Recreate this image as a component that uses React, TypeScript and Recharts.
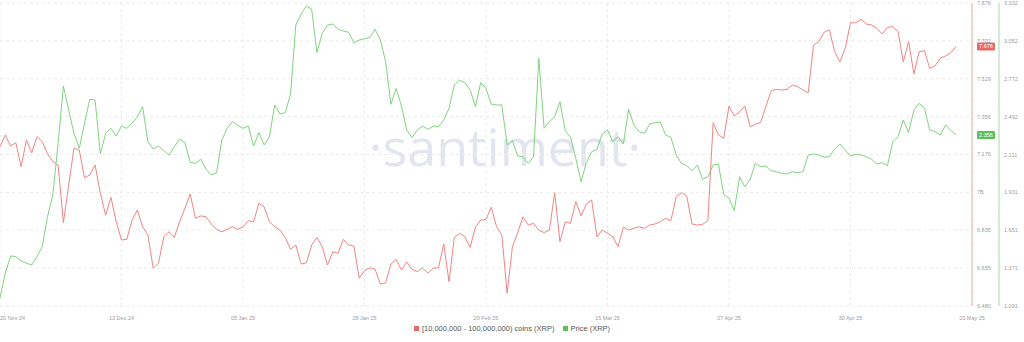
import React from "react";
import { LineChart, Line, XAxis, YAxis, CartesianGrid, Legend, ReferenceLine } from "recharts";

// Daily values from 20 Nov 2024 (day 0) to 20 May 2025 (day 181)
const holdersSupply: number[] = [
  7.214, 7.268, 7.217, 7.232, 7.122, 7.245, 7.186, 7.26, 7.237, 7.18,
  7.145, 7.13, 6.864, 7.037, 7.207, 7.199, 7.071, 7.084, 7.13, 6.999,
  6.899, 6.981, 6.868, 6.784, 6.787, 6.876, 6.922, 6.845, 6.807, 6.654,
  6.677, 6.799, 6.822, 6.796, 6.868, 6.93, 6.996, 6.884, 6.895, 6.891,
  6.858, 6.833, 6.822, 6.833, 6.845, 6.833, 6.845, 6.873, 6.868, 6.953,
  6.937, 6.868, 6.845, 6.83, 6.796, 6.741, 6.761, 6.673, 6.679, 6.761,
  6.796, 6.753, 6.669, 6.73, 6.723, 6.787, 6.761, 6.756, 6.608, 6.643,
  6.656, 6.649, 6.581, 6.587, 6.673, 6.695, 6.646, 6.683, 6.649, 6.638,
  6.656, 6.631, 6.654, 6.656, 6.766, 6.592, 6.796, 6.815, 6.799, 6.75,
  6.843, 6.876, 6.879, 6.935, 6.845, 6.807, 6.539, 6.753, 6.818, 6.891,
  6.853, 6.861, 6.83, 6.818, 6.83, 7.002, 6.776, 6.868, 6.861, 6.961,
  6.895, 6.95, 6.968, 6.799, 6.83, 6.815, 6.799, 6.753, 6.843, 6.83,
  6.838, 6.845, 6.838, 6.853, 6.858, 6.868, 6.884, 6.873, 6.984, 7.002,
  6.987, 6.858, 6.853, 6.856, 6.873, 7.324, 7.268, 7.253, 7.401, 7.355,
  7.375, 7.401, 7.306, 7.317, 7.326, 7.401, 7.472, 7.478, 7.475, 7.478,
  7.498, 7.49, 7.475, 7.463, 7.682, 7.698, 7.741, 7.752, 7.652, 7.605,
  7.667, 7.785, 7.785, 7.801, 7.779, 7.775, 7.759, 7.733, 7.764, 7.767,
  7.744, 7.605, 7.698, 7.549, 7.652, 7.656, 7.575, 7.586, 7.621, 7.632,
  7.647, 7.676,
];

const priceXrp: number[] = [
  1.15, 1.333, 1.461, 1.456, 1.426, 1.407, 1.394, 1.456, 1.53, 1.752,
  1.912, 2.294, 2.718, 2.541, 2.368, 2.257, 2.442, 2.62, 2.615, 2.215,
  2.368, 2.405, 2.348, 2.422, 2.405, 2.442, 2.491, 2.565, 2.306, 2.252,
  2.274, 2.24, 2.206, 2.269, 2.324, 2.299, 2.154, 2.146, 2.176, 2.102,
  2.06, 2.077, 2.319, 2.405, 2.454, 2.427, 2.405, 2.422, 2.274, 2.373,
  2.282, 2.343, 2.578, 2.511, 2.521, 2.659, 3.169, 3.251, 3.31, 3.285,
  2.964, 3.108, 3.169, 3.177, 3.137, 3.125, 3.115, 3.038, 3.058, 3.068,
  3.078, 3.137, 3.058, 2.898, 2.583, 2.701, 2.57, 2.393, 2.336, 2.393,
  2.422, 2.398, 2.422, 2.417, 2.467, 2.553, 2.726, 2.762, 2.743, 2.689,
  2.565, 2.743, 2.701, 2.583, 2.578, 2.578, 2.282, 2.314, 2.2, 2.195,
  2.146, 2.195, 2.923, 2.405, 2.454, 2.491, 2.602, 2.388, 2.339, 2.183,
  2.01, 2.151, 2.232, 2.25, 2.363, 2.393, 2.306, 2.343, 2.289, 2.546,
  2.43, 2.38, 2.368, 2.437, 2.447, 2.452, 2.356, 2.339, 2.208, 2.146,
  2.129, 2.092, 2.134, 2.028, 2.047, 2.134, 2.141, 1.917, 1.888, 1.796,
  2.047, 1.973, 2.028, 2.146, 2.121, 2.126, 2.092, 2.084, 2.072, 2.067,
  2.084, 2.077, 2.084, 2.208, 2.215, 2.208, 2.191, 2.195, 2.252, 2.289,
  2.245, 2.2, 2.213, 2.208, 2.195, 2.176, 2.141, 2.151, 2.129, 2.306,
  2.343, 2.467, 2.373, 2.541, 2.59, 2.553, 2.393, 2.38, 2.356, 2.43,
  2.388, 2.356,
];

const xTickDays: number[] = [0, 23, 46, 69, 92, 115, 138, 161, 184];
const xTickLabels: string[] = [
  "20 Nov 24", "13 Dec 24", "05 Jan 25", "28 Jan 25", "20 Feb 25",
  "15 Mar 25", "07 Apr 25", "30 Apr 25", "23 May 25",
];

const holderTicks: number[] = [6.48, 6.6545, 6.829, 7.0035, 7.178, 7.3525, 7.527, 7.7015, 7.876];
const holderTickLabels: string[] = ["6.480", "6.655", "6.835", "7B", "7.176", "7.356", "7.529", "7.702", "7.876"];
const priceTicks: number[] = [1.091, 1.371, 1.651, 1.931, 2.211, 2.492, 2.772, 3.052, 3.332];
const priceTickLabels: string[] = ["1.091", "1.371", "1.651", "1.931", "2.211", "2.492", "2.772", "3.052", "3.332"];

const lastHolderLabel = "7.676";
const lastPriceLabel = "2.356";

const seriesNames = ["[10,000,000 - 100,000,000) coins (XRP)", "Price (XRP)"];

const RED = "#ee8585";
const GREEN = "#82d282";
const FONT = "'Liberation Sans', Arial, sans-serif";

const data = holdersSupply.map((h, i) => ({ day: i, holders: h, price: priceXrp[i] }));

const XTick = (props: any) => {
  const { x, y, payload, index } = props;
  const label = xTickLabels[xTickDays.indexOf(payload.value)] ?? "";
  const anchor = index === 0 ? "start" : "middle";
  return (
    <text x={index === 0 ? 0 : x} y={y} dy={6} textAnchor={anchor} fontSize={5.5} fill="#9c9c9c" fontFamily={FONT}>
      {label}
    </text>
  );
};

const Badge = (props: any) => {
  const { viewBox, color, text, offset } = props;
  if (!viewBox) return null;
  const bx = viewBox.x + viewBox.width + offset;
  const cy = viewBox.y;
  return (
    <g>
      <rect x={bx} y={cy - 4} width={18} height={8} fill={color} rx={1} />
      <text x={bx + 9} y={cy} dy="0.35em" textAnchor="middle" fontSize={5.5} fill="#ffffff" fontFamily={FONT}>
        {text}
      </text>
    </g>
  );
};

const LegendContent = () => (
  <div
    style={{
      display: "flex",
      justifyContent: "center",
      alignItems: "center",
      height: 16,
      fontSize: 7.5,
      color: "#555",
      fontFamily: FONT,
    }}
  >
    <span style={{ display: "inline-block", width: 5, height: 5, background: "#e46a6a", marginRight: 3 }} />
    <span style={{ marginRight: 8 }}>{seriesNames[0]}</span>
    <span style={{ display: "inline-block", width: 5, height: 5, background: "#5cbf5c", marginRight: 3 }} />
    <span>{seriesNames[1]}</span>
  </div>
);

export default function App() {
  return (
    <div style={{ position: "absolute", left: 0, top: 0, width: 1024, height: 342, background: "#fff" }}>
      <svg width={1024} height={342} style={{ position: "absolute", left: 0, top: 0 }}>
        <text x={505} y={166} textAnchor="middle" fontSize={52} fill="#e3e5ee" fontFamily="'Open Sans', sans-serif">
          ·santiment·
        </text>
      </svg>
      <div style={{ position: "absolute", left: 0, top: 0 }}>
        <LineChart width={1024} height={342} data={data} margin={{ top: 3, right: 0, left: 0, bottom: 6 }}>
          <CartesianGrid yAxisId="h" stroke="#ebebeb" strokeDasharray="3 3" />
          <XAxis
            dataKey="day"
            type="number"
            domain={[0, 184]}
            ticks={xTickDays}
            tick={<XTick />}
            tickLine={false}
            axisLine={false}
            height={14}
            interval={0}
          />
          <YAxis
            yAxisId="h"
            orientation="right"
            domain={[6.48, 7.876]}
            ticks={holderTicks}
            tickFormatter={(_v: number, i: number) => holderTickLabels[i]}
            width={27}
            tickLine={false}
            tickSize={3}
            axisLine={{ stroke: "#eeaaaa" }}
            tick={{ fontSize: 5.5, fill: "#9c9c9c", fontFamily: FONT }}
            interval={0}
          />
          <YAxis
            yAxisId="p"
            orientation="right"
            domain={[1.091, 3.332]}
            ticks={priceTicks}
            tickFormatter={(_v: number, i: number) => priceTickLabels[i]}
            width={25}
            tickLine={false}
            tickSize={3}
            axisLine={{ stroke: "#a6d9a6" }}
            tick={{ fontSize: 5.5, fill: "#9c9c9c", fontFamily: FONT }}
            interval={0}
          />
          <Line
            yAxisId="h"
            dataKey="holders"
            name={seriesNames[0]}
            stroke={RED}
            strokeWidth={1}
            dot={false}
            isAnimationActive={false}
          />
          <Line
            yAxisId="p"
            dataKey="price"
            name={seriesNames[1]}
            stroke={GREEN}
            strokeWidth={1}
            dot={false}
            isAnimationActive={false}
          />
          <ReferenceLine
            yAxisId="h"
            y={7.676}
            stroke="none"
            ifOverflow="visible"
            label={<Badge color="#e46a6a" text={lastHolderLabel} offset={1} />}
          />
          <ReferenceLine
            yAxisId="p"
            y={2.356}
            stroke="none"
            ifOverflow="visible"
            label={<Badge color="#5cbf5c" text={lastPriceLabel} offset={28} />}
          />
          <Legend verticalAlign="bottom" height={16} content={<LegendContent />} />
        </LineChart>
      </div>
    </div>
  );
}
